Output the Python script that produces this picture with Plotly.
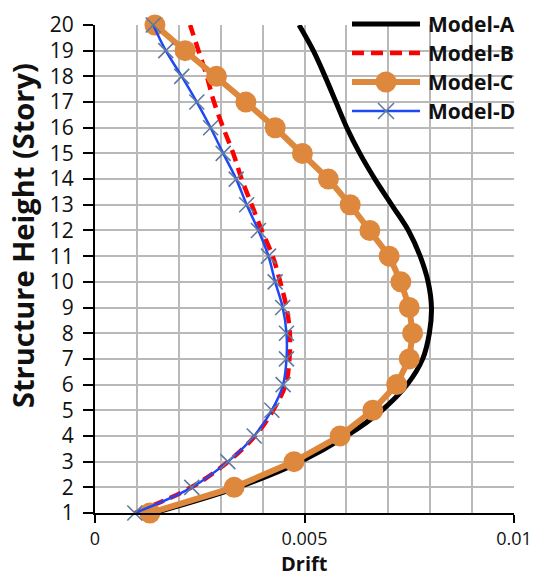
import plotly.graph_objects as go

# ---------------- data ----------------
stories = list(range(1, 21))

model_a = [0.00140, 0.00340, 0.00490, 0.00600, 0.00685, 0.00745, 0.00782, 0.00798, 0.00803, 0.00795,
           0.00776, 0.00748, 0.00708, 0.00668, 0.00632, 0.00601, 0.00575, 0.00549, 0.00521, 0.00487]
model_b = [0.00095, 0.00230, 0.00318, 0.00382, 0.00425, 0.00455, 0.00464, 0.00465, 0.00457, 0.00442,
           0.00424, 0.00398, 0.00374, 0.00350, 0.00330, 0.00306, 0.00284, 0.00267, 0.00247, 0.00227]
model_c = [0.00131, 0.00332, 0.00475, 0.00585, 0.00663, 0.00720, 0.00750, 0.00758, 0.00750, 0.00730,
           0.00702, 0.00656, 0.00609, 0.00557, 0.00495, 0.00430, 0.00360, 0.00290, 0.00215, 0.00143]
model_d = [0.00095, 0.00231, 0.00317, 0.00380, 0.00422, 0.00449, 0.00457, 0.00457, 0.00448, 0.00430,
           0.00414, 0.00390, 0.00362, 0.00337, 0.00306, 0.00276, 0.00243, 0.00207, 0.00169, 0.00139]

series_names = ["Model-A", "Model-B", "Model-C", "Model-D"]
x_tick_vals = [0, 0.005, 0.01]
x_tick_text = ["0", "0.005", "0.01"]
x_title = "Drift"
y_title = "Structure Height (Story)"

# ---------------- styles ----------------
W, H = 542, 578
ML, MR, MT, MB = 95, 28, 25, 65
PW, PH = W - ML - MR, H - MT - MB
FONT = "Open Sans"
TXT = "#111111"
BLACK = "#000000"
RED = "#FF0000"
ORANGE = "#DE883E"
BLUE = "#1F48F5"
XMARK = "#5F7AA0"
GRID = "#B9B9B9"

fig = go.Figure()

fig.add_trace(go.Scatter(x=model_a, y=stories, mode="lines", name=series_names[0],
                         line=dict(color=BLACK, width=5, shape="spline", smoothing=1),
                         cliponaxis=False, showlegend=False))
fig.add_trace(go.Scatter(x=model_b, y=stories, mode="lines", name=series_names[1],
                         line=dict(color=RED, width=4.5, dash="12px,7px", shape="spline", smoothing=1),
                         cliponaxis=False, showlegend=False))
fig.add_trace(go.Scatter(x=model_c, y=stories, mode="lines+markers", name=series_names[2],
                         line=dict(color=ORANGE, width=6),
                         marker=dict(symbol="circle", size=21, color=ORANGE),
                         cliponaxis=False, showlegend=False))
fig.add_trace(go.Scatter(x=model_d, y=stories, mode="lines+markers", name=series_names[3],
                         line=dict(color=BLUE, width=2.5, shape="spline", smoothing=1),
                         marker=dict(symbol="x-thin", size=15, color=XMARK,
                                     line=dict(color=XMARK, width=1.6)),
                         cliponaxis=False, showlegend=False))

# ---------------- custom legend and titles (decoration) ----------------
def px_x(px):
    return (px - ML) / PW

def px_y(py):
    return (H - MB - py) / PH

shapes = []
annotations = []
shapes.append(dict(type="rect", xref="paper", yref="paper",
                   x0=px_x(344), x1=px_x(W), y0=px_y(123), y1=px_y(0),
                   fillcolor="white", line=dict(width=0), layer="between"))
rows = [24, 53, 82, 111]
lx0, lx1, tx = 352, 420, 426
styles = [dict(color=BLACK, width=5), dict(color=RED, width=4.5, dash="12px,7px"),
          dict(color=ORANGE, width=6), dict(color=BLUE, width=2.5)]
for name, py, st in zip(series_names, rows, styles):
    shapes.append(dict(type="line", xref="paper", yref="paper",
                       x0=px_x(lx0), x1=px_x(lx1), y0=px_y(py), y1=px_y(py),
                       line=st, layer="above"))
    annotations.append(dict(text=name, xref="paper", yref="paper",
                            x=px_x(tx), y=px_y(py), xanchor="left", yanchor="middle",
                            showarrow=False,
                            font=dict(family=FONT, size=21, color=TXT, weight="bold")))
mid = (lx0 + lx1) / 2
shapes.append(dict(type="circle", xref="paper", yref="paper", xsizemode="pixel", ysizemode="pixel",
                   xanchor=px_x(mid), yanchor=px_y(rows[2]), x0=-10.5, x1=10.5, y0=-10.5, y1=10.5,
                   fillcolor=ORANGE, line=dict(width=0), layer="above"))
for a, b in [((-8, -8), (8, 8)), ((-8, 8), (8, -8))]:
    shapes.append(dict(type="line", xref="paper", yref="paper", xsizemode="pixel", ysizemode="pixel",
                       xanchor=px_x(mid), yanchor=px_y(rows[3]), x0=a[0], x1=b[0], y0=a[1], y1=b[1],
                       line=dict(color=XMARK, width=1.6), layer="above"))

annotations.append(dict(text=x_title, xref="paper", yref="paper", x=0.5, y=px_y(578),
                        xanchor="center", yanchor="bottom", showarrow=False, borderpad=0,
                        font=dict(family=FONT, size=20, color=TXT, weight="bold")))
annotations.append(dict(text=y_title, xref="paper", yref="paper", x=px_x(23), y=px_y(236),
                        xanchor="center", yanchor="middle", showarrow=False, textangle=-90,
                        font=dict(family=FONT, size=29, color=TXT, weight="bold")))

fig.update_layout(
    width=W, height=H,
    margin=dict(l=ML, r=MR, t=MT, b=MB, autoexpand=False),
    paper_bgcolor="white", plot_bgcolor="white",
    showlegend=False,
    shapes=shapes, annotations=annotations,
    font=dict(family=FONT, color=TXT),
    xaxis=dict(range=[0, 0.01], tickvals=x_tick_vals, ticktext=x_tick_text, automargin=False,
               showgrid=True, gridcolor=GRID, gridwidth=1.5,
               minor=dict(dtick=0.001, showgrid=True, gridcolor=GRID, gridwidth=1.5, ticks=""),
               showline=True, linecolor=BLACK, linewidth=2, zeroline=False,
               ticks="outside", ticklen=8, tickwidth=2, tickcolor=BLACK, ticklabelstandoff=0,
               tickfont=dict(family=FONT, size=18, color=TXT)),
    yaxis=dict(range=[1, 20], dtick=1, tick0=1, automargin=False,
               showgrid=True, gridcolor=GRID, gridwidth=1.5,
               showline=True, linecolor=BLACK, linewidth=2, zeroline=False,
               ticks="outside", ticklen=10, tickwidth=1.5, tickcolor=BLACK, ticklabelstandoff=5,
               tickfont=dict(family=FONT, size=21, color=TXT)),
)

fig.write_html("out.html", config={"displayModeBar": False},
               post_script="document.body.style.margin='0';document.body.style.overflow='hidden';")
